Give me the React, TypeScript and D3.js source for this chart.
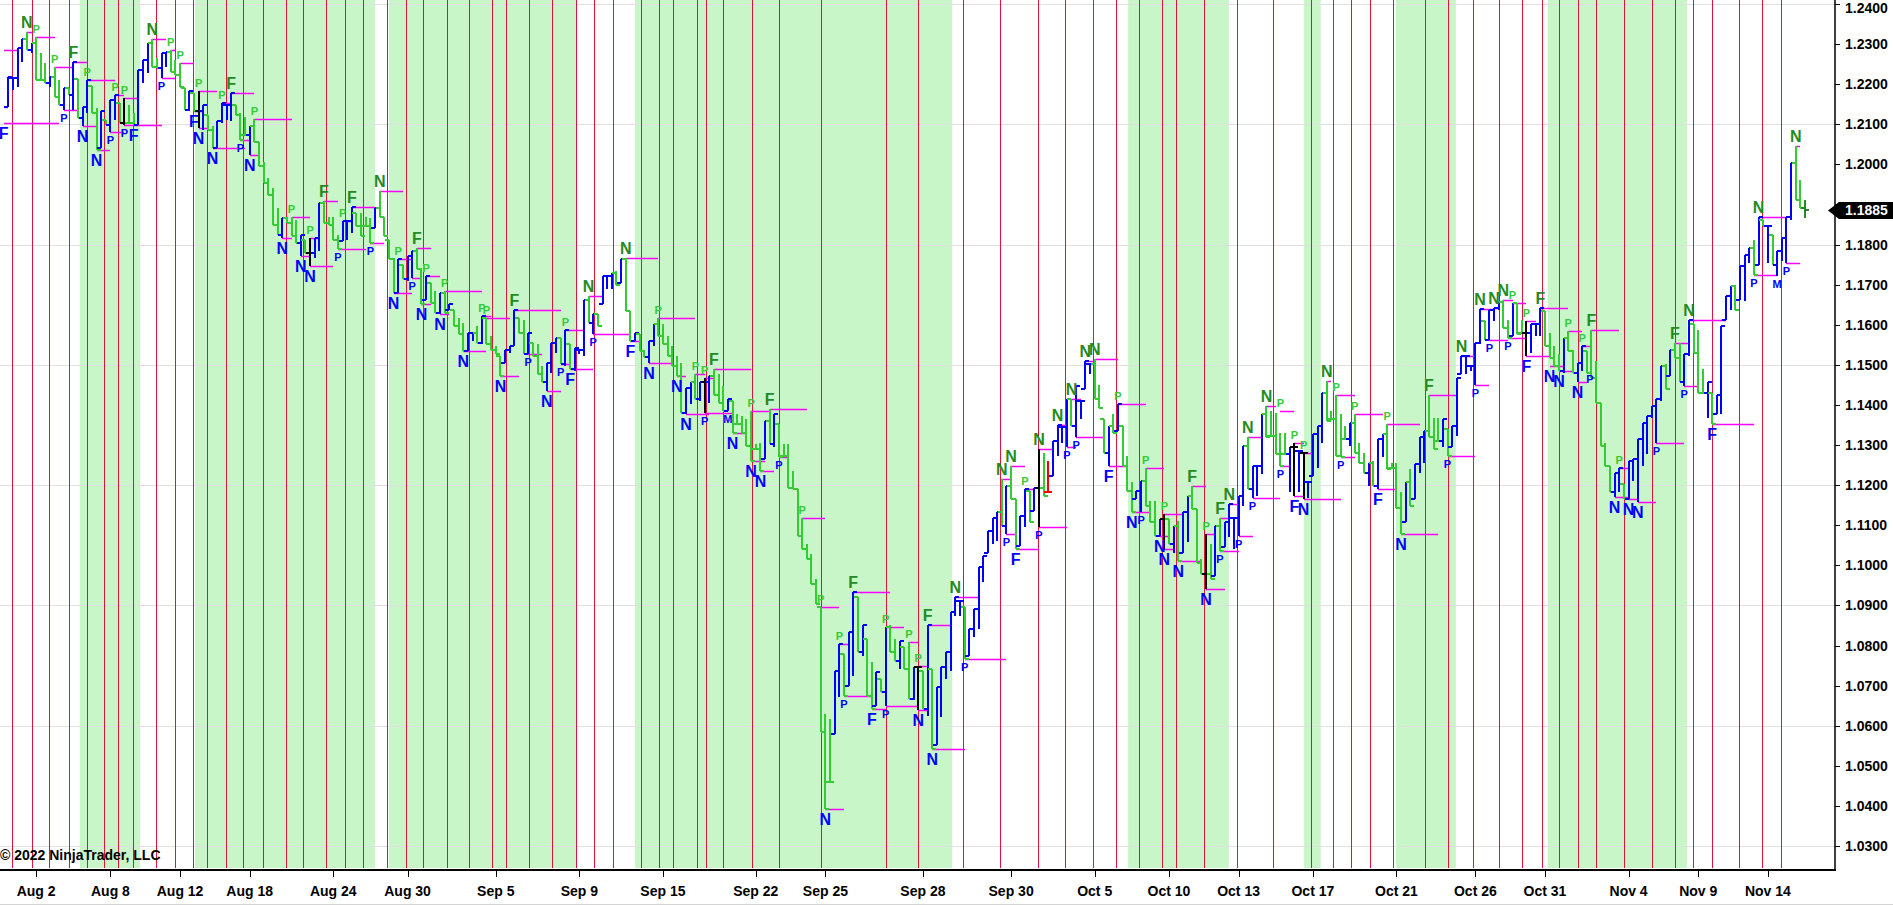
import * as d3 from "d3";
import { useEffect, useRef } from "react";

const WIDTH = 1893;
const HEIGHT = 905;
const AXIS_X = 1835;
const AXIS_Y = 870;
const FONT = "'Liberation Sans', Arial, Helvetica, sans-serif";

// [high, low, kind]  kind: b = up (blue), g = down (green), k = doji (black), r = red, d = last (dark green)
type Bar = [number, number, string];
// [bar index, label, a = above high / b = below low, line length in bars, explicit level]
type Marker = [number, string, "a" | "b", number, number?];

const bars1: Bar[] = [
    [1.2219, 1.2143, "b"], [1.2215, 1.2186, "b"], [1.229, 1.2193, "b"], [1.2312, 1.2255, "b"], [1.2331, 1.2286, "g"],
    [1.2302, 1.2277, "b"], [1.2317, 1.2211, "g"], [1.2277, 1.2211, "g"], [1.2252, 1.2203, "g"], [1.2219, 1.2193, "b"],
    [1.2244, 1.2169, "g"], [1.2211, 1.2149, "g"], [1.219, 1.2136, "b"], [1.219, 1.2174, "g"], [1.2256, 1.2136, "b"],
    [1.2213, 1.2115, "g"], [1.2144, 1.2095, "b"], [1.2211, 1.2128, "b"], [1.2196, 1.2128, "g"], [1.214, 1.2037, "g"],
    [1.2132, 1.2041, "b"], [1.2111, 1.2099, "g"], [1.2161, 1.2082, "b"], [1.2173, 1.2111, "b"], [1.2153, 1.2103, "g"],
    [1.2165, 1.2099, "k"], [1.2149, 1.2103, "g"], [1.2128, 1.2099, "g"], [1.2236, 1.2099, "b"], [1.2261, 1.2203, "b"],
    [1.2302, 1.2227, "b"], [1.2312, 1.2244, "g"], [1.2265, 1.224, "g"], [1.2277, 1.2215, "b"], [1.2281, 1.2244, "b"],
    [1.2286, 1.2231, "g"], [1.2261, 1.2223, "g"], [1.2252, 1.2194, "g"], [1.219, 1.2136, "g"], [1.2182, 1.2132, "b"],
    [1.2178, 1.2132, "g"], [1.2182, 1.2091, "k"], [1.2149, 1.2086, "b"], [1.2124, 1.2086, "g"], [1.2095, 1.2041, "g"],
    [1.2107, 1.2041, "b"], [1.2153, 1.2103, "b"], [1.2149, 1.2111, "b"], [1.2178, 1.2107, "b"], [1.2149, 1.2124, "g"],
    [1.2128, 1.2061, "g"], [1.2119, 1.2074, "g"], [1.2095, 1.2024, "b"], [1.2113, 1.2057, "g"], [1.2057, 1.1995, "g"],
    [1.2007, 1.1954, "g"], [1.1966, 1.1924, "g"], [1.1941, 1.185, "g"], [1.1891, 1.1825, "g"], [1.1866, 1.1817, "b"],
    [1.187, 1.1854, "g"], [1.1869, 1.1821, "g"], [1.1862, 1.1804, "g"], [1.1825, 1.1771, "b"], [1.1812, 1.1779, "g"],
    [1.1817, 1.1746, "k"], [1.1817, 1.1767, "b"], [1.1904, 1.1783, "b"], [1.1908, 1.1854, "g"], [1.187, 1.185, "g"],
    [1.187, 1.1812, "g"], [1.1825, 1.1788, "g"], [1.1858, 1.1808, "b"], [1.1858, 1.1812, "b"], [1.1894, 1.1829, "b"],
    [1.1879, 1.1846, "g"], [1.1879, 1.1821, "g"], [1.187, 1.1846, "g"], [1.1866, 1.1804, "g"], [1.1891, 1.1841, "b"],
    [1.1933, 1.187, "g"], [1.187, 1.1821, "g"], [1.1812, 1.1763, "g"], [1.1767, 1.168, "g"], [1.1763, 1.168, "b"],
    [1.175, 1.1713, "g"], [1.1771, 1.1709, "b"], [1.1783, 1.1717, "b"], [1.1792, 1.1738, "g"], [1.1742, 1.1651, "g"],
    [1.1721, 1.1663, "b"], [1.1705, 1.1655, "g"], [1.1684, 1.163, "g"], [1.168, 1.1626, "b"], [1.1684, 1.163, "g"],
    [1.1651, 1.1638, "b"], [1.1638, 1.1597, "g"], [1.1617, 1.1576, "g"], [1.1605, 1.1534, "g"], [1.158, 1.1534, "b"],
];

const bars2: Bar[] = [
    [1.158, 1.1559, "b"], [1.1597, 1.1555, "g"], [1.1621, 1.1551, "b"], [1.1617, 1.1551, "g"], [1.1572, 1.1538, "g"],
    [1.1547, 1.1526, "g"], [1.1522, 1.1472, "g"], [1.1538, 1.1505, "b"], [1.1547, 1.153, "b"], [1.1636, 1.1547, "b"],
    [1.1617, 1.158, "g"], [1.1613, 1.1526, "g"], [1.158, 1.1526, "b"], [1.1555, 1.1522, "g"], [1.1551, 1.1476, "g"],
    [1.1497, 1.1456, "g"], [1.1505, 1.1435, "b"], [1.1555, 1.148, "b"], [1.1568, 1.153, "b"], [1.1568, 1.1501, "g"],
    [1.1588, 1.1497, "b"], [1.1551, 1.1489, "g"], [1.1543, 1.1485, "b"], [1.1538, 1.1526, "b"], [1.1663, 1.1522, "b"],
    [1.1671, 1.1605, "g"], [1.1626, 1.1576, "b"], [1.1626, 1.1597, "g"], [1.1721, 1.1651, "b"], [1.1721, 1.1688, "b"],
    [1.1729, 1.1688, "b"], [1.1733, 1.17, "g"], [1.1763, 1.1705, "b"], [1.1767, 1.1634, "g"], [1.1634, 1.1559, "g"],
    [1.158, 1.1559, "b"], [1.1576, 1.1534, "g"], [1.1538, 1.152, "g"], [1.1559, 1.1505, "b"], [1.1601, 1.1547, "b"],
    [1.1617, 1.1572, "g"], [1.1601, 1.1551, "g"], [1.1572, 1.1522, "g"], [1.1547, 1.1497, "g"], [1.1522, 1.1472, "g"],
    [1.1505, 1.1381, "g"], [1.1443, 1.1377, "b"], [1.1456, 1.1402, "b"], [1.1476, 1.1414, "g"], [1.1456, 1.141, "b"],
    [1.1468, 1.1381, "k"], [1.1472, 1.1406, "b"], [1.1489, 1.1426, "g"], [1.1476, 1.1406, "g"], [1.1447, 1.1385, "g"],
    [1.1414, 1.1385, "b"], [1.141, 1.1331, "g"], [1.1377, 1.1352, "g"], [1.1372, 1.1331, "g"], [1.1364, 1.1298, "g"],
    [1.1385, 1.126, "g"], [1.1302, 1.129, "g"], [1.1306, 1.1235, "g"], [1.136, 1.1265, "b"], [1.1389, 1.1302, "g"],
    [1.1377, 1.1294, "b"], [1.1352, 1.1269, "g"], [1.1302, 1.1273, "g"], [1.1302, 1.1194, "g"], [1.1235, 1.119, "g"],
    [1.119, 1.1074, "g"], [1.1119, 1.104, "g"], [1.1053, 1.1016, "g"], [1.1028, 1.0953, "g"], [1.0966, 1.0904, "g"],
    [1.0895, 1.0584, "g"], [1.063, 1.0393, "g"], [1.0617, 1.046, "g"], [1.0737, 1.058, "b"], [1.0804, 1.0671, "b"],
    [1.0779, 1.0675, "g"], [1.0833, 1.07, "b"], [1.0933, 1.0725, "b"], [1.092, 1.0783, "g"], [1.085, 1.0775, "b"],
    [1.0816, 1.0675, "g"], [1.0758, 1.0642, "g"], [1.0733, 1.065, "b"], [1.0717, 1.0684, "g"], [1.0846, 1.065, "b"],
    [1.085, 1.0783, "g"], [1.0816, 1.0762, "g"], [1.0812, 1.0742, "b"], [1.0796, 1.0742, "g"], [1.0808, 1.0667, "g"],
    [1.0746, 1.0663, "b"], [1.075, 1.0638, "k"], [1.0737, 1.0642, "g"], [1.085, 1.0625, "b"], [1.0742, 1.0543, "g"],
];

const bars3: Bar[] = [
    [1.0696, 1.0551, "b"], [1.0746, 1.0621, "b"], [1.0783, 1.0717, "b"], [1.0883, 1.0737, "b"], [1.092, 1.0874, "b"],
    [1.0912, 1.0874, "b"], [1.0895, 1.0767, "g"], [1.0841, 1.0775, "b"], [1.0891, 1.0821, "b"], [1.0995, 1.0841, "b"],
    [1.1024, 1.0958, "b"], [1.1086, 1.1032, "b"], [1.1119, 1.1053, "b"], [1.1132, 1.1061, "b"], [1.1215, 1.1099, "g"],
    [1.1198, 1.1078, "b"], [1.1248, 1.1165, "g"], [1.1165, 1.104, "g"], [1.1123, 1.1049, "b"], [1.119, 1.1095, "b"],
    [1.1186, 1.1107, "g"], [1.1194, 1.1136, "b"], [1.129, 1.1095, "k"], [1.1281, 1.1173, "g"], [1.126, 1.1182, "r"],
    [1.131, 1.1223, "b"], [1.1349, 1.1273, "b"], [1.1344, 1.1306, "b"], [1.1414, 1.1294, "b"], [1.1414, 1.1348, "g"],
    [1.1447, 1.1319, "b"], [1.141, 1.1364, "b"], [1.1509, 1.1439, "b"], [1.1501, 1.1476, "b"], [1.1514, 1.1414, "g"],
    [1.1451, 1.1393, "g"], [1.1364, 1.1281, "g"], [1.1348, 1.1248, "b"], [1.1377, 1.1331, "g"], [1.1402, 1.1335, "b"],
    [1.1348, 1.1248, "g"], [1.1273, 1.1186, "g"], [1.1207, 1.1132, "g"], [1.1186, 1.1165, "b"], [1.1211, 1.1132, "b"],
    [1.1244, 1.1148, "g"], [1.1161, 1.1107, "g"], [1.1161, 1.1074, "g"], [1.1115, 1.1074, "b"], [1.1128, 1.104, "k"],
    [1.1115, 1.1053, "g"], [1.1098, 1.1032, "b"], [1.1111, 1.1011, "g"], [1.1132, 1.1032, "b"], [1.1173, 1.1057, "b"],
    [1.1198, 1.114, "g"], [1.114, 1.1007, "g"], [1.1016, 1.0978, "g"], [1.1078, 1.0941, "k"], [1.1053, 1.0966, "g"],
    [1.1098, 1.0974, "b"], [1.1119, 1.1036, "g"], [1.1107, 1.1045, "b"], [1.1153, 1.107, "b"], [1.1119, 1.104, "b"],
    [1.1173, 1.1074, "b"], [1.1298, 1.1148, "b"], [1.1319, 1.119, "g"], [1.1248, 1.1169, "b"], [1.1248, 1.1173, "b"],
    [1.1377, 1.1227, "b"], [1.1397, 1.1319, "g"], [1.1385, 1.1323, "g"], [1.1381, 1.1277, "g"], [1.1331, 1.1248, "g"],
    [1.1331, 1.1277, "g"], [1.1294, 1.1182, "b"], [1.1306, 1.1173, "k"], [1.1285, 1.1182, "b"], [1.1281, 1.1165, "k"],
    [1.1207, 1.1169, "b"], [1.1327, 1.1223, "b"], [1.1348, 1.1244, "b"], [1.1431, 1.1306, "b"], [1.146, 1.136, "g"],
    [1.1385, 1.1364, "g"], [1.1426, 1.1273, "g"], [1.1377, 1.1269, "g"], [1.1348, 1.1314, "g"], [1.1356, 1.1298, "b"],
    [1.1377, 1.1281, "g"], [1.1306, 1.1256, "g"], [1.1281, 1.1231, "g"], [1.1256, 1.1198, "b"], [1.126, 1.1198, "g"],
    [1.1314, 1.119, "b"], [1.1327, 1.1269, "b"], [1.1352, 1.124, "g"], [1.1256, 1.1244, "g"], [1.1256, 1.1144, "g"],
];

const bars4: Bar[] = [
    [1.1182, 1.1078, "g"], [1.1207, 1.1107, "b"], [1.124, 1.1148, "g"], [1.1252, 1.1165, "b"], [1.1319, 1.1231, "b"],
    [1.1335, 1.1256, "b"], [1.1426, 1.1319, "g"], [1.1368, 1.129, "g"], [1.1368, 1.131, "g"], [1.1364, 1.1294, "b"],
    [1.1339, 1.1273, "g"], [1.1348, 1.1294, "b"], [1.1468, 1.1323, "b"], [1.1522, 1.1476, "b"], [1.1522, 1.1476, "b"],
    [1.1497, 1.1485, "b"], [1.1555, 1.1451, "b"], [1.164, 1.1551, "b"], [1.1609, 1.1563, "g"], [1.1638, 1.1563, "b"],
    [1.1642, 1.1609, "b"], [1.1656, 1.1638, "b"], [1.1663, 1.1593, "g"], [1.1613, 1.1568, "g"], [1.1655, 1.1572, "b"],
    [1.1655, 1.1576, "g"], [1.1613, 1.158, "g"], [1.1609, 1.1522, "k"], [1.1601, 1.153, "b"], [1.1601, 1.1572, "b"],
    [1.1642, 1.1572, "b"], [1.1634, 1.1547, "g"], [1.158, 1.1518, "g"], [1.1547, 1.1497, "g"], [1.1526, 1.1485, "g"],
    [1.1568, 1.148, "b"], [1.1584, 1.1534, "g"], [1.1538, 1.148, "g"], [1.1505, 1.1456, "b"], [1.1547, 1.1485, "b"],
    [1.1534, 1.148, "g"], [1.1588, 1.1468, "g"], [1.1509, 1.1406, "g"], [1.1406, 1.1298, "g"], [1.1306, 1.1248, "g"],
    [1.1248, 1.1182, "g"], [1.123, 1.117, "b"], [1.1244, 1.1182, "b"], [1.1202, 1.1165, "g"], [1.126, 1.1165, "b"],
    [1.1265, 1.1211, "b"], [1.1314, 1.1157, "b"], [1.1356, 1.1248, "b"], [1.1372, 1.1277, "b"], [1.1397, 1.1368, "b"],
    [1.1414, 1.1306, "b"], [1.1497, 1.141, "b"], [1.1501, 1.1439, "g"], [1.1538, 1.1472, "b"], [1.1555, 1.1518, "g"],
    [1.1555, 1.1456, "g"], [1.1526, 1.1447, "b"], [1.1613, 1.1522, "b"], [1.1601, 1.153, "g"], [1.1588, 1.1431, "g"],
    [1.1489, 1.1431, "g"], [1.1456, 1.1368, "b"], [1.1431, 1.1352, "g"], [1.1426, 1.1377, "b"], [1.1597, 1.1377, "b"],
    [1.1671, 1.1613, "b"], [1.1696, 1.1638, "b"], [1.17, 1.1638, "g"], [1.1746, 1.1663, "b"], [1.1775, 1.1659, "b"],
    [1.1792, 1.1754, "b"], [1.1812, 1.1725, "g"], [1.187, 1.175, "b"], [1.1862, 1.1846, "g"], [1.1846, 1.1754, "b"],
    [1.1825, 1.175, "g"], [1.1783, 1.1721, "b"], [1.1817, 1.1758, "b"], [1.187, 1.1754, "b"], [1.2003, 1.1862, "b"],
    [1.2045, 1.1912, "g"], [1.1962, 1.1891, "g"], [1.1912, 1.1866, "d"],
];

const lastPrice = 1.1885;

const markers: Marker[] = [
    [-1, "F", "b", 12, 1.2104], [-1, "", "a", 3, 1.2286], [-1, "", "b", 1, 1.2143],
    [4, "N", "a", 1], [6, "P", "a", 4], [10, "P", "a", 4], [14, "F", "a", 3], [17, "P", "a", 6], [12, "P", "b", 3],
    [16, "N", "b", 3], [19, "N", "b", 3], [22, "P", "b", 3], [23, "P", "a", 2], [25, "P", "a", 3], [25, "P", "b", 8],
    [27, "F", "b", 0], [31, "N", "a", 3], [35, "P", "a", 1], [37, "P", "a", 3], [33, "P", "b", 3], [41, "P", "a", 4],
    [40, "F", "b", 2], [41, "N", "b", 2], [44, "N", "b", 7], [48, "F", "a", 5], [46, "P", "a", 2], [50, "P", "b", 2],
    [52, "N", "b", 2], [53, "P", "a", 8], [61, "P", "a", 4], [59, "N", "b", 2], [63, "N", "b", 2], [65, "P", "a", 2],
    [65, "N", "b", 5], [68, "F", "a", 3], [72, "P", "a", 2], [71, "P", "b", 6], [74, "F", "a", 5], [78, "P", "b", 3],
    [80, "N", "a", 5], [84, "P", "a", 3], [83, "N", "b", 4], [87, "P", "b", 2], [88, "F", "a", 3], [89, "N", "b", 2],
    [90, "P", "a", 3], [93, "N", "b", 2], [94, "P", "a", 8], [98, "N", "b", 5], [102, "P", "a", 2], [103, "P", "a", 5],
    [106, "N", "b", 4], [109, "F", "a", 10], [112, "P", "b", 3], [116, "N", "b", 3], [120, "P", "a", 4], [119, "P", "b", 2],
    [121, "F", "b", 5], [125, "N", "a", 3], [126, "P", "b", 8], [133, "N", "a", 7], [134, "F", "b", 2],
    [138, "N", "b", 5], [140, "P", "a", 8], [144, "N", "b", 2], [146, "N", "b", 5], [148, "P", "a", 2], [150, "P", "a", 2],
    [150, "P", "b", 6], [152, "F", "a", 8], [155, "M", "b", 0], [156, "N", "b", 3], [160, "P", "a", 4], [160, "N", "b", 3],
    [164, "F", "a", 8], [162, "N", "b", 3], [166, "P", "b", 2], [171, "P", "a", 5],
    [175, "P", "a", 4], [176, "N", "b", 4], [182, "F", "a", 8], [179, "P", "a", 2], [180, "P", "b", 6], [186, "F", "b", 3],
    [189, "P", "a", 4], [189, "P", "b", 7], [194, "P", "a", 2], [196, "P", "a", 2], [196, "N", "b", 2], [198, "F", "a", 5],
    [199, "N", "b", 7], [204, "N", "a", 5], [206, "P", "b", 9],
    [214, "N", "a", 2], [215, "P", "b", 2], [216, "N", "a", 3], [217, "F", "b", 5], [219, "P", "a", 2], [222, "N", "a", 3],
    [222, "P", "b", 6], [226, "N", "a", 2], [228, "P", "b", 2], [229, "N", "a", 2], [230, "P", "b", 6], [232, "N", "a", 2],
    [234, "N", "a", 5], [237, "F", "b", 4], [239, "P", "a", 6], [242, "N", "b", 2], [244, "P", "b", 2], [245, "P", "a", 4],
    [248, "N", "b", 2], [249, "P", "a", 4], [249, "N", "b", 2], [252, "N", "b", 5], [255, "F", "a", 3],
    [258, "N", "b", 4], [258, "P", "a", 2], [261, "P", "b", 4], [261, "F", "a", 2], [263, "N", "a", 2], [265, "P", "b", 3],
    [267, "N", "a", 3], [268, "P", "b", 6], [271, "N", "a", 2], [274, "P", "a", 3, 1.1385], [274, "P", "b", 2], [277, "P", "a", 2],
    [277, "F", "b", 2], [279, "P", "a", 2], [279, "N", "b", 8], [284, "N", "a", 1], [286, "P", "a", 4], [287, "P", "b", 3],
    [290, "P", "a", 6], [295, "F", "b", 4], [297, "P", "a", 7], [300, "N", "b", 8],
    [306, "F", "a", 6], [310, "P", "b", 6], [313, "N", "a", 3], [316, "P", "b", 3], [317, "N", "a", 3], [319, "P", "b", 4],
    [320, "N", "a", 1], [322, "N", "a", 2], [324, "P", "a", 3], [323, "P", "b", 4], [327, "P", "a", 2], [327, "F", "b", 5],
    [330, "F", "a", 6], [332, "N", "b", 3, 1.1497], [334, "N", "b", 3], [336, "P", "a", 3], [338, "N", "b", 2],
    [340.7, "P", "b", 0, 1.1485], [339, "P", "a", 2], [341, "F", "a", 6], [347, "P", "a", 2], [346, "N", "b", 3],
    [349, "N", "b", 2], [351, "N", "b", 4], [355, "P", "b", 6], [359, "F", "a", 3], [361, "P", "b", 3], [362, "N", "a", 8],
    [367, "F", "b", 9], [376, "P", "b", 5], [377, "N", "a", 6], [381, "M", "b", 0], [383, "P", "b", 3], [385, "N", "a", 1],
];

// positions in bar units
const sessionLines = [
    0.9, 5.0, 8.8, 13.0, 16.9, 20.7, 23.7, 26.8, 31.8, 35.8, 39.7, 42.7, 46.8, 50.6, 54.8, 59.8, 63.5, 68.5, 72.6, 76.5,
    81.5, 85.6, 89.4, 94.4, 99.3, 104.2, 107.3, 112.2, 117.2, 122.3, 126.2, 130.3, 136.2, 140.2, 143.2, 148.3, 150.2, 154.0,
    160.1, 166.1, 175.0, 189.0, 195.9, 205.7, 213.7, 221.7, 227.7, 233.7, 238.7, 243.6, 248.6, 251.5, 257.6, 264.6, 272.5,
    280.5, 285.4, 289.3, 293.4, 298.3, 305.2, 310.1, 315.4, 321.1, 326.1, 330.3, 334.1, 338.1, 342.0, 348.1, 354.1, 359.1,
    362.9, 367.0, 372.8, 377.8, 381.9,
];

const shadedRanges: [number, number][] = [
    [15.4, 28.4], [40.2, 79.0], [82.0, 122.5], [135.0, 203.3], [241.2, 262.9], [279.1, 282.7], [298.9, 311.8], [331.6, 361.6],
];

const dateTicks: [number, string][] = [
    [6, "Aug 2"], [22, "Aug 8"], [37, "Aug 12"], [52, "Aug 18"], [70, "Aug 24"], [86, "Aug 30"], [105, "Sep 5"],
    [123, "Sep 9"], [141, "Sep 15"], [161, "Sep 22"], [176, "Sep 25"], [197, "Sep 28"], [216, "Sep 30"], [234, "Oct 5"],
    [250, "Oct 10"], [265, "Oct 13"], [281, "Oct 17"], [299, "Oct 21"], [316, "Oct 26"], [331, "Oct 31"], [349, "Nov 4"],
    [364, "Nov 9"], [379, "Nov 14"],
];

const priceLevels = [
    1.24, 1.23, 1.22, 1.21, 1.2, 1.19, 1.18, 1.17, 1.16, 1.15, 1.14, 1.13, 1.12, 1.11, 1.1, 1.09, 1.08, 1.07, 1.06, 1.05,
    1.04, 1.03,
];
const gridLevels = [1.24, 1.21, 1.18, 1.15, 1.12, 1.09, 1.06, 1.03];

const allBars: Bar[] = [...bars1, ...bars2, ...bars3, ...bars4];

const BAR_COLORS: Record<string, string> = { b: "#0000ff", g: "#33cc33", k: "#000000", r: "#ff0000", d: "#228b22" };

export default function App() {
    const svgRef = useRef<SVGSVGElement | null>(null);

    useEffect(() => {
        if (!svgRef.current) return;
        const svg = d3.select(svgRef.current);
        svg.selectAll("*").remove();

        const last = allBars.length - 1;
        const x = d3.scaleLinear().domain([0, last]).range([8.3, 1805]);
        const y = d3.scaleLinear().domain([1.03, 1.24]).range([846, 4]);
        const px = (i: number) => Math.round(x(i));
        const py = (p: number) => Math.round(y(p));

        svg.append("rect").attr("width", WIDTH).attr("height", HEIGHT).attr("fill", "#ffffff");
        svg.append("defs")
            .append("clipPath")
            .attr("id", "plot-clip")
            .append("rect")
            .attr("x", 0)
            .attr("y", 0)
            .attr("width", AXIS_X)
            .attr("height", AXIS_Y - 1);

        const plot = svg.append("g").attr("clip-path", "url(#plot-clip)");

        plot.selectAll("rect.zone")
            .data(shadedRanges)
            .enter()
            .append("rect")
            .attr("x", (d) => x(d[0]))
            .attr("width", (d) => x(d[1]) - x(d[0]))
            .attr("y", 0)
            .attr("height", AXIS_Y - 2)
            .attr("fill", "#c9f6c9");

        plot.selectAll("line.grid")
            .data(gridLevels)
            .enter()
            .append("line")
            .attr("x1", 0)
            .attr("x2", AXIS_X)
            .attr("y1", (d) => py(d) + 0.5)
            .attr("y2", (d) => py(d) + 0.5)
            .attr("stroke", "#e0e0e0")
            .attr("stroke-width", 1);

        plot.selectAll("line.session")
            .data(sessionLines)
            .enter()
            .append("line")
            .attr("x1", (d) => px(d) + 0.5)
            .attr("x2", (d) => px(d) + 0.5)
            .attr("y1", 0)
            .attr("y2", AXIS_Y - 2)
            .attr("stroke", "#e0143c")
            .attr("stroke-width", 1);

        const levelOf = (m: Marker) => m[4] ?? (m[2] === "a" ? allBars[m[0]][0] : allBars[m[0]][1]);

        plot.selectAll("line.level")
            .data(markers.filter((m) => m[3] > 0))
            .enter()
            .append("line")
            .attr("x1", (m) => px(m[0]))
            .attr("x2", (m) => px(m[0] + m[3]))
            .attr("y1", (m) => py(levelOf(m)) + 0.5)
            .attr("y2", (m) => py(levelOf(m)) + 0.5)
            .attr("stroke", "#ff00ff")
            .attr("stroke-width", 1.5);

        // open = previous close clamped into the bar, close at the bar's end in its direction
        let prevClose = allBars[0][1];
        const ohlc = allBars.map(([hi, lo, kind], i) => {
            const open = Math.min(hi, Math.max(lo, prevClose));
            let close = kind === "b" ? hi : kind === "g" || kind === "d" ? lo : open;
            if (i === last) close = lastPrice;
            prevClose = close;
            return { i, hi, lo, open, close, kind };
        });

        const barG = plot
            .selectAll("g.bar")
            .data(ohlc)
            .enter()
            .append("g")
            .attr("stroke", (d) => BAR_COLORS[d.kind])
            .attr("stroke-width", 2)
            .attr("shape-rendering", "crispEdges");
        barG.append("line")
            .attr("x1", (d) => px(d.i))
            .attr("x2", (d) => px(d.i))
            .attr("y1", (d) => py(d.hi))
            .attr("y2", (d) => Math.max(py(d.lo), py(d.hi) + 2));
        barG.append("line")
            .attr("x1", (d) => px(d.i) - 4)
            .attr("x2", (d) => px(d.i))
            .attr("y1", (d) => py(d.open))
            .attr("y2", (d) => py(d.open));
        barG.append("line")
            .attr("x1", (d) => px(d.i))
            .attr("x2", (d) => px(d.i) + 4)
            .attr("y1", (d) => py(d.close))
            .attr("y2", (d) => py(d.close));

        plot.selectAll("text.mark")
            .data(markers.filter((m) => m[1] !== ""))
            .enter()
            .append("text")
            .attr("x", (m) => x(m[0]))
            .attr("y", (m) => {
                const big = m[1] === "N" || m[1] === "F";
                return m[2] === "a" ? y(levelOf(m)) - 4 : y(levelOf(m)) + 4 + (big ? 12 : 8);
            })
            .attr("text-anchor", "middle")
            .attr("font-family", FONT)
            .attr("font-weight", "bold")
            .attr("font-size", (m) => (m[1] === "N" || m[1] === "F" ? 16 : 11))
            .attr("fill", (m) => {
                if (m[2] === "b") return "#0000ff";
                return m[1] === "N" || m[1] === "F" ? "#228b22" : "#33cc33";
            })
            .text((m) => m[1]);

        // axes
        svg.append("line")
            .attr("x1", 0)
            .attr("x2", AXIS_X + 1)
            .attr("y1", AXIS_Y)
            .attr("y2", AXIS_Y)
            .attr("stroke", "#000")
            .attr("stroke-width", 2);
        svg.append("line")
            .attr("x1", AXIS_X)
            .attr("x2", AXIS_X)
            .attr("y1", 0)
            .attr("y2", AXIS_Y)
            .attr("stroke", "#000")
            .attr("stroke-width", 1.5);

        svg.selectAll("line.dtick")
            .data(dateTicks)
            .enter()
            .append("line")
            .attr("x1", (d) => px(d[0]) + 0.5)
            .attr("x2", (d) => px(d[0]) + 0.5)
            .attr("y1", AXIS_Y + 1)
            .attr("y2", AXIS_Y + 7)
            .attr("stroke", "#000");
        svg.selectAll("text.dlabel")
            .data(dateTicks)
            .enter()
            .append("text")
            .attr("x", (d) => x(d[0]))
            .attr("y", 896)
            .attr("text-anchor", "middle")
            .attr("font-family", FONT)
            .attr("font-weight", "bold")
            .attr("font-size", 14)
            .attr("fill", "#000")
            .text((d) => d[1]);

        const ly = y(lastPrice);
        // the last-price flag covers the label next to it
        const visibleLevels = priceLevels.filter((d) => Math.abs(y(d) - ly) > 12);

        svg.selectAll("line.ptick")
            .data(priceLevels)
            .enter()
            .append("line")
            .attr("x1", AXIS_X)
            .attr("x2", AXIS_X + 5)
            .attr("y1", (d) => py(d) + 0.5)
            .attr("y2", (d) => py(d) + 0.5)
            .attr("stroke", "#000");
        svg.selectAll("text.plabel")
            .data(visibleLevels)
            .enter()
            .append("text")
            .attr("x", 1845)
            .attr("y", (d) => Math.max(y(d) + 5, 13))
            .attr("font-family", FONT)
            .attr("font-weight", "bold")
            .attr("font-size", 14)
            .attr("fill", "#000")
            .text((d) => d.toFixed(4));

        svg.append("path")
            .attr("d", `M1828,${ly} L1839,${ly - 8.5} L${WIDTH},${ly - 8.5} L${WIDTH},${ly + 8.5} L1839,${ly + 8.5} Z`)
            .attr("fill", "#000");
        svg.append("text")
            .attr("x", 1845)
            .attr("y", ly + 5)
            .attr("font-family", FONT)
            .attr("font-weight", "bold")
            .attr("font-size", 14)
            .attr("fill", "#fff")
            .text(lastPrice.toFixed(4));

        svg.append("text")
            .attr("x", 0)
            .attr("y", 860)
            .attr("font-family", FONT)
            .attr("font-weight", "bold")
            .attr("font-size", 14)
            .attr("fill", "#000")
            .text("© 2022 NinjaTrader, LLC");

        svg.append("line")
            .attr("x1", 0)
            .attr("x2", WIDTH)
            .attr("y1", 904.5)
            .attr("y2", 904.5)
            .attr("stroke", "#d4d4d4");

        return () => {
            svg.selectAll("*").remove();
        };
    }, []);

    return (
        <svg
            ref={svgRef}
            width={WIDTH}
            height={HEIGHT}
            style={{ position: "absolute", left: 0, top: 0, display: "block" }}
        />
    );
}
